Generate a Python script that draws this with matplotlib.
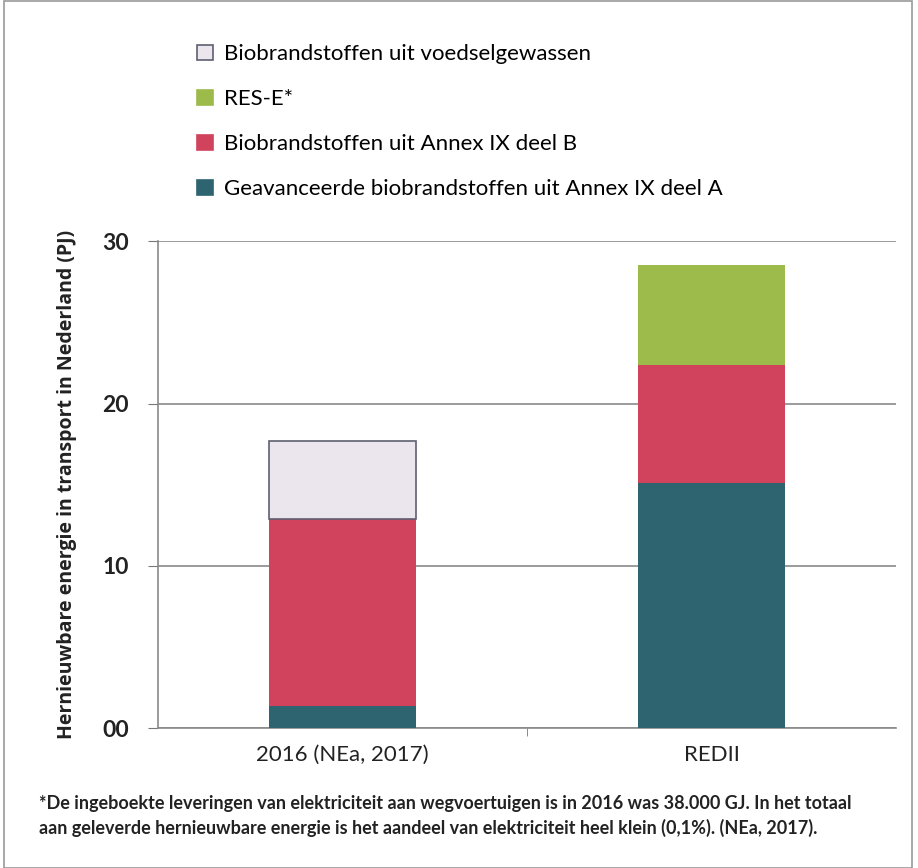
import matplotlib.pyplot as plt
import matplotlib.patches as patches
import numpy as np

plt.rcParams['font.family'] = ['Lato', 'DejaVu Sans']

categories = ['2016 (NEa, 2017)', 'REDII']
series_names = [
    'Geavanceerde biobrandstoffen uit Annex IX deel A',
    'Biobrandstoffen uit Annex IX deel B',
    'RES-E*',
    'Biobrandstoffen uit voedselgewassen',
]
annex_a = [1.4, 15.1]
annex_b = [11.5, 7.25]
res_e = [0.0, 6.2]
voedsel = [4.8, 0.0]
y_ticks = [0, 10, 20, 30]
y_tick_labels = ['00', '10', '20', '30']

colors = ['#2d6470', '#d1435c', '#9cbb4b', '#ebe6ee']
edges = ['none', 'none', 'none', '#5f5f70']

fig = plt.figure(figsize=(9.18, 8.68), dpi=100)
ax = fig.add_axes([0.172, 0.161, 0.804, 0.561])

x = np.arange(len(categories))
bottom = np.zeros(len(categories))
handles = []
for vals, name, c, ec in zip([annex_a, annex_b, res_e, voedsel], series_names, colors, edges):
    vals = np.array(vals)
    # no outline on empty segments
    ecs = [ec if v > 0 else 'none' for v in vals]
    lw = 1.2 if ec != 'none' else 0
    ax.bar(x, vals, width=0.4, bottom=bottom, color=c, edgecolor=ecs, linewidth=lw, zorder=3)
    bottom += vals
    handles.append(patches.Patch(facecolor=c, edgecolor=ec if ec != 'none' else c, linewidth=1.2, label=name))

ax.set_xlim(-0.5, 1.5)
ax.set_ylim(0, 30)
ax.set_yticks(y_ticks)
ax.set_yticklabels(y_tick_labels, fontsize=16.5, fontweight='bold', color='#222222')
ax.set_xticks(x)
ax.set_xticklabels(categories, fontsize=16, color='#222222')
ax.tick_params(axis='x', length=0, pad=12)
ax.set_xticks([0.5], minor=True)
ax.tick_params(axis='x', which='minor', length=6, color='#777777')
ax.tick_params(axis='y', length=7, color='#777777', pad=14)
ax.yaxis.grid(True, color='#8a8a8a', linewidth=1.2, zorder=0)
for s in ['top', 'right']:
    ax.spines[s].set_visible(False)
ax.spines['left'].set_color('#8a8a8a')
ax.spines['bottom'].set_color('#8a8a8a')
ax.spines['left'].set_linewidth(1.2)
ax.spines['bottom'].set_linewidth(1.2)

ax.set_ylabel('Hernieuwbare energie in transport in Nederland (PJ)', fontsize=14,
              fontweight='bold', family=['Open Sans', 'DejaVu Sans'], color='#222222',
              labelpad=18)

fig.legend(handles=handles[::-1], loc='upper left', bbox_to_anchor=(0.205, 0.959),
           frameon=False, fontsize=16, handlelength=0.7, handleheight=0.7,
           handletextpad=0.5, labelspacing=1.12, borderaxespad=0)

fig.text(0.043, 0.068,
         '*De ingeboekte leveringen van elektriciteit aan wegvoertuigen is in 2016 was 38.000 GJ. In het totaal',
         fontsize=13, fontweight='bold', color='#222222')
fig.text(0.043, 0.039,
         'aan geleverde hernieuwbare energie is het aandeel van elektriciteit heel klein (0,1%). (NEa, 2017).',
         fontsize=13, fontweight='bold', color='#222222')

fig.patches.append(patches.Rectangle((0.004, 0.0), 0.99, 0.999, transform=fig.transFigure,
                                     fill=False, edgecolor='#999999', linewidth=1.2))

fig.savefig('out.png', dpi=100)
